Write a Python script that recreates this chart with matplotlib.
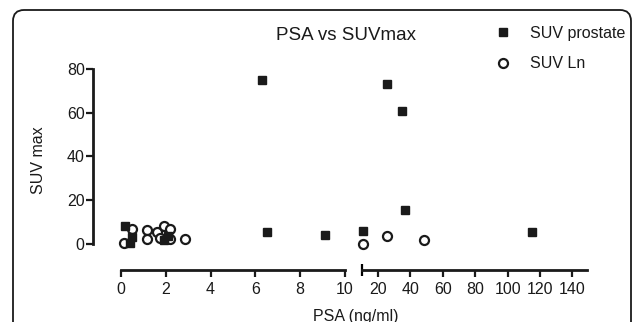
import matplotlib
matplotlib.use("Agg")
import matplotlib.pyplot as plt
from matplotlib.patches import FancyBboxPatch
from matplotlib.transforms import IdentityTransform
from matplotlib.lines import Line2D
import numpy as np

plt.rcParams['font.family'] = ['Liberation Sans', 'DejaVu Sans']

# data
psa_prostate = [0.2, 0.4, 0.5, 1.9, 2.1, 6.3, 6.5, 9.1, 10.9, 25.7, 34.6, 36.7, 114.9]
suv_prostate = [8.4, 0.6, 3.0, 2.0, 3.5, 75.0, 5.3, 4.0, 6.0, 73.0, 61.0, 15.5, 5.5]
psa_ln = [0.15, 0.5, 1.15, 1.15, 1.6, 1.75, 1.9, 2.2, 2.2, 2.85, 10.9, 25.7, 48.3]
suv_ln = [0.3, 6.9, 6.4, 2.1, 5.3, 2.6, 8.4, 6.7, 2.1, 2.3, 0.0, 3.6, 2.0]

left_ticks = [0, 2, 4, 6, 8, 10]
right_ticks = [20, 40, 60, 80, 100, 120, 140]
y_ticks = [0, 20, 40, 60, 80]

ink = "#1a1a1a"
W, H = 632, 322

fig = plt.figure(figsize=(W / 100, H / 100), dpi=100)

# rounded frame round the panel
frame = FancyBboxPatch((13, -30), 618, 342, boxstyle="round,pad=0,rounding_size=11",
                       transform=IdentityTransform(), lw=1.3, ec=ink, fc="none")
fig.patches.append(frame)

bottom = 1 - 254.9 / H
height = (254.9 - 64.6) / H
ax1 = fig.add_axes([109.8 / W, bottom, (351.7 - 109.8) / W, height])
ax2 = fig.add_axes([355.3 / W, bottom, (591.8 - 355.3) / W, height])

px = np.array(psa_prostate)
py = np.array(suv_prostate)
lx = np.array(psa_ln)
ly = np.array(suv_ln)

sq = dict(ls="none", marker="s", ms=6, color=ink, mec=ink)
ci = dict(ls="none", marker="o", ms=6.5, mfc="white", mec=ink, mew=1.6)

for ax, keep in ((ax1, lambda v: v <= 10), (ax2, lambda v: v > 10)):
    ax.plot(lx[keep(lx)], ly[keep(lx)], **ci)
    ax.plot(px[keep(px)], py[keep(px)], **sq)
    ax.set_ylim(-5, 82)
    ax.patch.set_visible(False)
    for s in ("top", "right"):
        ax.spines[s].set_visible(False)
    ax.spines["bottom"].set_position(("outward", 10.8))
    ax.spines["bottom"].set_linewidth(2.0)
    ax.spines["bottom"].set_color(ink)
    ax.tick_params(axis="x", direction="out", length=5, width=1.6, pad=3.5,
                   labelsize=11.5, colors=ink)

ax1.set_xlim(-0.5, 10.3)
ax1.set_xticks(left_ticks)
ax1.spines["bottom"].set_bounds(0, 10)
ax1.spines["left"].set_position(("outward", 12.1))
ax1.spines["left"].set_bounds(0, 80)
ax1.spines["left"].set_linewidth(2.0)
ax1.spines["left"].set_color(ink)
ax1.set_yticks(y_ticks)
ax1.tick_params(axis="y", direction="out", length=5, width=1.6, pad=1,
                labelsize=11.5, colors=ink)
ax1.set_ylabel("SUV max", fontsize=11.5, color=ink, labelpad=15)

ax2.set_xlim(6, 152)
ax2.set_xticks(right_ticks)
ax2.set_xticks([10], minor=True)
ax2.tick_params(axis="x", which="minor", direction="inout", length=8, width=1.6)
ax2.spines["bottom"].set_bounds(10, 149)
ax2.spines["left"].set_visible(False)
ax2.set_yticks([])

fig.text(346 / W, 1 - 35 / H, "PSA vs SUVmax", ha="center", va="center",
         fontsize=13.5, color=ink)
fig.text(356 / W, 1 - 316 / H, "PSA (ng/ml)", ha="center", va="center",
         fontsize=11.5, color=ink)

handles = [Line2D([], [], **sq), Line2D([], [], **ci)]
fig.legend(handles, ["SUV prostate", "SUV Ln"], loc="upper left",
           bbox_to_anchor=(495 / W, 1 - 26 / H), frameon=False, fontsize=11.5,
           handlelength=1.0, handletextpad=1.2, labelspacing=0.95,
           borderpad=0, borderaxespad=0, labelcolor=ink)

fig.savefig("out.png", dpi=100)
